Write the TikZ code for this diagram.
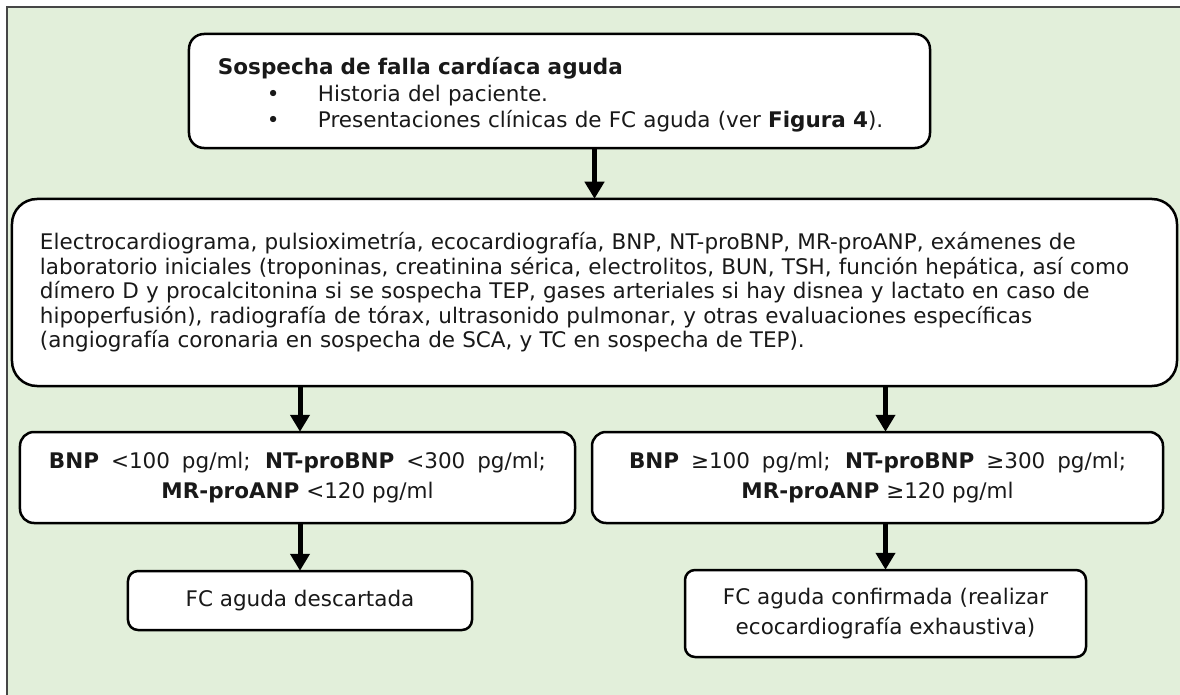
\documentclass[tikz,border=0pt]{standalone}
\usepackage{fontspec}
\setmainfont{DejaVu Sans}
\usetikzlibrary{arrows.meta}
\definecolor{bggreen}{RGB}{226,239,218}
\definecolor{framegray}{RGB}{70,70,70}
\definecolor{txt}{RGB}{25,25,25}
\newcommand{\bodysize}{\fontsize{21.5bp}{24.5bp}\selectfont}
\newlength{\linew}
\setlength{\linew}{1109bp}
\newcommand{\jline}[1]{\makebox[\linew][s]{#1}}
\tikzset{
  box/.style={draw=black, line width=2.5bp, fill=white, font=\bodysize, text=txt, inner sep=0pt},
  arr/.style={-{Triangle[width=19bp,length=17bp]}, line width=5bp, draw=black, shorten >=-1bp},
}
\begin{document}
\begin{tikzpicture}[x=1bp,y=-1bp]
\clip (0,0) rectangle (1180,695);
\fill[bggreen] (7,7) rectangle (1200,720);
\draw[framegray, line width=1.6bp] (7,720) -- (7,7) -- (1200,7);

\node[box, rounded corners=15bp, minimum width=741bp, minimum height=114bp,
      text width=683bp, align=left] (top) at (559.5,91)
  {\rule{0pt}{25bp}\textbf{Sospecha de falla cardíaca aguda}\\[2bp]
   \hspace*{49bp}\makebox[51bp][l]{•}Historia del paciente.\\[2bp]
   \hspace*{49bp}\makebox[51bp][l]{•}Presentaciones clínicas de FC aguda (ver \textbf{Figura 4}).};

\node[box, rounded corners=25bp, minimum width=1165bp, minimum height=187bp,
      text width=1109bp, align=left] (big) at (594.5,292.5)
  {\jline{Electrocardiograma, pulsioximetría, ecocardiografía, BNP, NT-proBNP, MR-proANP, exámenes de}\\
   \jline{laboratorio iniciales (troponinas, creatinina sérica, electrolitos, BUN, TSH, función hepática, así como}\\
   \jline{dímero D y procalcitonina si se sospecha TEP, gases arteriales si hay disnea y lactato en caso de}\\
   \jline{hipoperfusión), radiografía de tórax, ultrasonido pulmonar, y otras evaluaciones específicas}\\
   (angiografía coronaria en sospecha de SCA, y TC en sospecha de TEP).};

\node[box, rounded corners=14bp, minimum width=555bp, minimum height=91bp,
      align=center] (lbnp) at (297.5,477.5)
  {\makebox[497bp][s]{\textbf{BNP} <100 pg/ml; \textbf{NT-proBNP} <300 pg/ml;}\\[5bp]
   \textbf{MR-proANP} <120 pg/ml};

\node[box, rounded corners=14bp, minimum width=571bp, minimum height=91bp,
      align=center] (rbnp) at (877.5,477.5)
  {\makebox[497bp][s]{\textbf{BNP} ≥100 pg/ml; \textbf{NT-proBNP} ≥300 pg/ml;}\\[5bp]
   \textbf{MR-proANP} ≥120 pg/ml};

\node[box, rounded corners=10bp, minimum width=344bp, minimum height=59bp] (lres) at (300,600.5)
  {FC aguda descartada};

\node[box, rounded corners=10bp, minimum width=401bp, minimum height=87bp,
      align=center] (rres) at (885.5,613.5)
  {FC aguda confirmada (realizar\\[5bp] ecocardiografía exhaustiva)};

\draw[arr] (top.south -| big.north) -- (big.north);
\draw[arr] (big.south -| lres.north) -- (lbnp.north -| lres.north);
\draw[arr] (big.south -| rres.north) -- (rbnp.north -| rres.north);
\draw[arr] (lbnp.south -| lres.north) -- (lres.north);
\draw[arr] (rbnp.south -| rres.north) -- (rres.north);
\end{tikzpicture}
\end{document}
